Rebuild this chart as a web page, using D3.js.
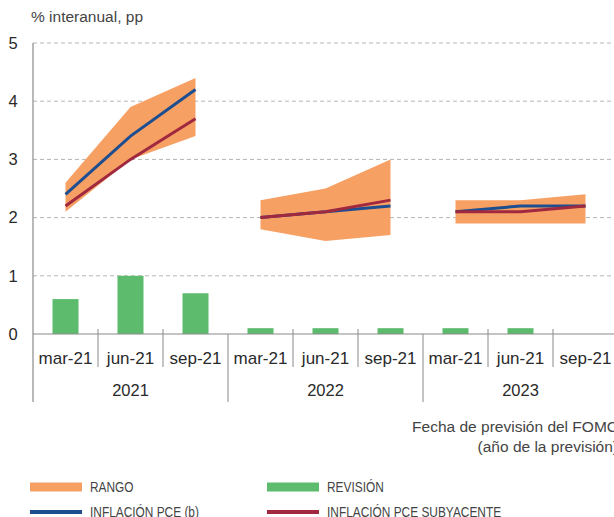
<!DOCTYPE html>
<html>
<head>
<meta charset="utf-8">
<script src="https://cdn.jsdelivr.net/npm/d3@7"></script>
<style>
  body { margin: 0; background: #fff; }
  svg { display: block; font-family: "Liberation Sans", Arial, sans-serif; }
</style>
</head>
<body>
<div id="chart"></div>
<script>
// forecast year groups and FOMC meeting months
const years = ['2021', '2022', '2023'];
const months = ['mar-21', 'jun-21', 'sep-21'];

// values per year, one entry per meeting month
const rangeLow  = [[2.1, 3.0, 3.4], [1.8, 1.6, 1.7], [1.9, 1.9, 1.9]];
const rangeHigh = [[2.6, 3.9, 4.4], [2.3, 2.5, 3.0], [2.3, 2.3, 2.4]];
const pce       = [[2.4, 3.4, 4.2], [2.0, 2.1, 2.2], [2.1, 2.2, 2.2]];
const corePce   = [[2.2, 3.0, 3.7], [2.0, 2.1, 2.3], [2.1, 2.1, 2.2]];
const revision  = [[0.6, 1.0, 0.7], [0.1, 0.1, 0.1], [0.1, 0.1, null]];

const yTicks = [0, 1, 2, 3, 4, 5];

const colors = {
    range: '#f7a064',
    revision: '#5cbb6c',
    pce: '#1d4e8f',
    core: '#a0293f',
    grid: '#b5b5b5',
    axis: '#8a8a8a',
    text: '#2a2a2a'
};

const width = 614, height = 517;
const plot = { left: 33, top: 43, right: 618, bottom: 334 };

const keys = [];
years.forEach(y => months.forEach(m => keys.push(y + '|' + m)));

const x = d3.scaleBand()
    .domain(keys)
    .range([plot.left, plot.right]);

const y = d3.scaleLinear()
    .domain([0, 5])
    .range([plot.bottom, plot.top]);

const svg = d3.select('#chart')
    .append('svg')
    .attr('width', width)
    .attr('height', height);

svg.append('text')
    .attr('x', 31)
    .attr('y', 22)
    .attr('fill', '#444')
    .style('font-size', '15.5px')
    .text('% interanual, pp');

// y axis labels
const yAxisG = svg.append('g')
    .attr('transform', `translate(${plot.left},0)`)
    .call(d3.axisLeft(y).tickValues(yTicks).tickSize(0).tickPadding(14).tickFormat(d3.format('d')));
yAxisG.select('.domain').remove();
yAxisG.selectAll('text')
    .attr('fill', colors.text)
    .style('font-size', '16.5px')
    .attr('text-anchor', 'middle')
    .attr('x', -20);

// grid
svg.append('g')
    .selectAll('line')
    .data(yTicks.filter(d => d > 0))
    .join('line')
    .attr('x1', plot.left)
    .attr('x2', width)
    .attr('y1', d => y(d))
    .attr('y2', d => y(d))
    .attr('stroke', colors.grid)
    .attr('stroke-width', 1)
    .attr('stroke-dasharray', '4,3');

const cx = k => x(k) + x.bandwidth() / 2;

// revision bars
const barData = [];
years.forEach((yr, i) => months.forEach((m, j) => {
    if (revision[i][j] != null) barData.push({ key: yr + '|' + m, value: revision[i][j] });
}));
const barW = x.bandwidth() * 0.4;
svg.append('g')
    .selectAll('rect')
    .data(barData)
    .join('rect')
    .attr('x', d => cx(d.key) - barW / 2)
    .attr('y', d => y(d.value))
    .attr('width', barW)
    .attr('height', d => y(0) - y(d.value))
    .attr('fill', colors.revision);

// range areas + lines, one segment per year
const area = d3.area()
    .x(d => cx(d.key))
    .y0(d => y(d.lo))
    .y1(d => y(d.hi));
const line = d3.line()
    .x(d => cx(d.key))
    .y(d => y(d.v));

const groups = years.map((yr, i) => months.map((m, j) => ({
    key: yr + '|' + m,
    lo: rangeLow[i][j],
    hi: rangeHigh[i][j],
    pce: pce[i][j],
    core: corePce[i][j]
})));

svg.append('g')
    .selectAll('path')
    .data(groups)
    .join('path')
    .attr('d', area)
    .attr('fill', colors.range);

[['pce', colors.pce], ['core', colors.core]].forEach(([field, c]) => {
    svg.append('g')
        .selectAll('path')
        .data(groups)
        .join('path')
        .attr('d', g => line(g.map(d => ({ key: d.key, v: d[field] }))))
        .attr('fill', 'none')
        .attr('stroke', c)
        .attr('stroke-width', 3);
});

// axes lines
svg.append('line')
    .attr('x1', plot.left).attr('x2', width)
    .attr('y1', y(0)).attr('y2', y(0))
    .attr('stroke', colors.axis).attr('stroke-width', 1.2);
svg.append('line')
    .attr('x1', plot.left).attr('x2', plot.left)
    .attr('y1', plot.top).attr('y2', 402)
    .attr('stroke', colors.axis).attr('stroke-width', 1.2);

// category axis: month separators and year separators
const xAxis = svg.append('g');
keys.forEach((k, i) => {
    if (i === 0) return;
    const isYear = i % months.length === 0;
    xAxis.append('line')
        .attr('x1', x(k)).attr('x2', x(k))
        .attr('y1', isYear ? y(0) : y(0) - 5)
        .attr('y2', isYear ? 402 : 367)
        .attr('stroke', colors.axis)
        .attr('stroke-width', 1);
});
xAxis.selectAll('text.month')
    .data(keys)
    .join('text')
    .attr('class', 'month')
    .attr('x', d => cx(d))
    .attr('y', 364)
    .attr('text-anchor', 'middle')
    .attr('fill', colors.text)
    .style('font-size', '17px')
    .text(d => d.split('|')[1]);
xAxis.selectAll('text.year')
    .data(years)
    .join('text')
    .attr('class', 'year')
    .attr('x', d => cx(d + '|' + months[1]))
    .attr('y', 396)
    .attr('text-anchor', 'middle')
    .attr('fill', colors.text)
    .style('font-size', '16.5px')
    .text(d => d);

svg.append('text')
    .attr('x', 618)
    .attr('y', 432)
    .attr('text-anchor', 'end')
    .attr('fill', '#444')
    .style('font-size', '15.5px')
    .text('Fecha de previsión del FOMC');
svg.append('text')
    .attr('x', 618)
    .attr('y', 452)
    .attr('text-anchor', 'end')
    .attr('fill', '#444')
    .style('font-size', '15.5px')
    .text('(año de la previsión)');

// legend
const legendItems = [
    { label: 'RANGO', color: colors.range, col: 0, row: 0, h: 9 },
    { label: 'REVISIÓN', color: colors.revision, col: 1, row: 0, h: 9 },
    { label: 'INFLACIÓN PCE (b)', color: colors.pce, col: 0, row: 1, h: 4 },
    { label: 'INFLACIÓN PCE SUBYACENTE', color: colors.core, col: 1, row: 1, h: 4 }
];
const legend = svg.append('g').attr('class', 'legend');
const lg = legend.selectAll('g')
    .data(legendItems)
    .join('g')
    .attr('transform', d => `translate(${d.col ? 267 : 30},${d.row ? 512 : 487})`);
lg.append('rect')
    .attr('x', 0)
    .attr('y', d => -d.h / 2)
    .attr('width', 52)
    .attr('height', d => d.h)
    .attr('fill', d => d.color);
// condensed label text
lg.append('text')
    .attr('transform', 'translate(60,5) scale(0.82,1)')
    .attr('fill', '#444')
    .style('font-size', '14.5px')
    .text(d => d.label);
</script>
</body>
</html>
